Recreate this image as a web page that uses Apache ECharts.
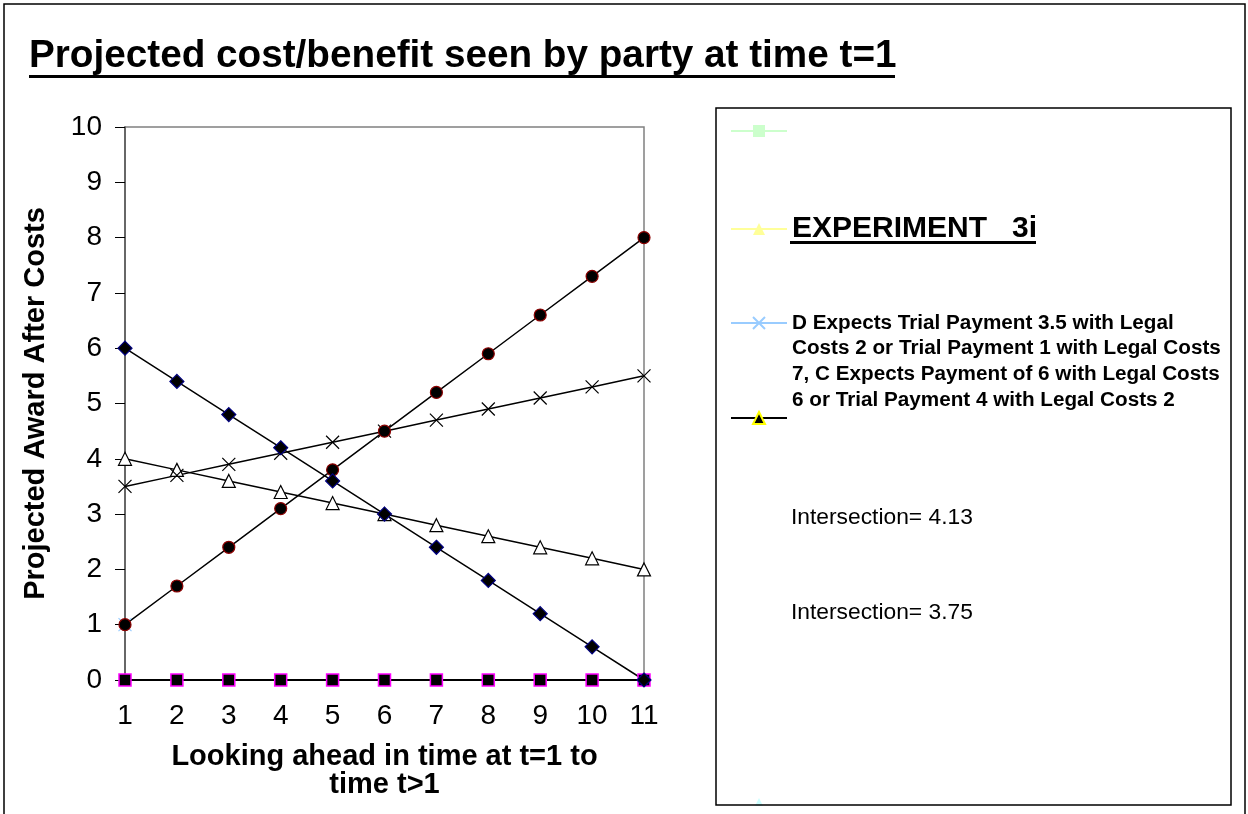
<!DOCTYPE html>
<html>
<head>
<meta charset="utf-8">
<script src="https://cdn.jsdelivr.net/npm/echarts@6/dist/echarts.min.js"></script>
<style>
  html, body { margin: 0; padding: 0; background: #fff; }
  #chart { width: 1248px; height: 814px; }
</style>
</head>
<body>
<div id="chart"></div>
<script>
const categories = ['1', '2', '3', '4', '5', '6', '7', '8', '9', '10', '11']

// plotted series (no legend entry)
const diamondVals = [6, 5.4, 4.8, 4.2, 3.6, 3.0, 2.4, 1.8, 1.2, 0.6, 0]
const circleVals = [1, 1.7, 2.4, 3.1, 3.8, 4.5, 5.2, 5.9, 6.6, 7.3, 8.0]
const crossVals = [3.5, 3.7, 3.9, 4.1, 4.3, 4.5, 4.7, 4.9, 5.1, 5.3, 5.5]
const openTriVals = [4, 3.8, 3.6, 3.4, 3.2, 3.0, 2.8, 2.6, 2.4, 2.2, 2.0]
const squareVals = [0, 0, 0, 0, 0, 0, 0, 0, 0, 0, 0]

// legend series
const greenVals = []
const yellowVals = [0, 0, 0, 0, 0, 0, 0, 0, 0, 0, 0]
const blueXVals = [1]
const blackTriVals = []
const cyanVals = []

const expName = 'EXPERIMENT   3i'
const dName = 'D Expects Trial Payment 3.5 with Legal\nCosts 2 or Trial Payment 1 with Legal Costs\n7, C Expects Payment of 6 with Legal Costs\n6 or Trial Payment 4 with Legal Costs 2'
const int1Name = 'Intersection= 4.13'
const int2Name = 'Intersection= 3.75'

const FONT = '"Liberation Sans", Arial, sans-serif'
const X_SYMBOL = 'path://M0,0L10,10M10,0L0,10'

const chart = echarts.init(document.getElementById('chart'))

function legendAt(name, top, text) {
    return Object.assign({
        data: [name],
        left: 730,
        top: top,
        padding: 0,
        orient: 'vertical',
        itemWidth: 56,
        itemHeight: 15,
        selectedMode: false,
        textStyle: { fontFamily: FONT, color: '#000' }
    }, text)
}

const option = {
    animation: false,
    backgroundColor: '#fff',
    title: {
        text: 'Projected cost/benefit seen by party at time t=1',
        left: 29,
        top: 37,
        padding: 0,
        textStyle: {
            fontFamily: FONT,
            fontSize: 38.7,
            fontWeight: 'bold',
            color: '#000'
        }
    },
    grid: {
        left: 125,
        right: 604,
        top: 127,
        bottom: 134,
        show: true,
        borderColor: '#808080',
        borderWidth: 1.5
    },
    legend: [
        legendAt('green', 125, { formatter: () => '', textStyle: { lineHeight: 15 } }),
        legendAt(expName, 212, {
            textStyle: { fontFamily: FONT, fontSize: 30, fontWeight: 'bold', color: '#000', lineHeight: 34 }
        }),
        legendAt(dName, 227, {
            formatter: name => '\n\n\n' + name,
            textStyle: {
                fontFamily: FONT, fontSize: 20.7, fontWeight: 'bold', color: '#000',
                lineHeight: 25.7, padding: [12, 0, 0, 0]
            }
        }),
        legendAt('blackTri', 411, { formatter: () => '', textStyle: { lineHeight: 15 } }),
        legendAt(int1Name, 505, {
            itemStyle: { opacity: 0 },
            lineStyle: { opacity: 0 },
            textStyle: { fontFamily: FONT, fontSize: 22.8, color: '#000', lineHeight: 26 }
        }),
        legendAt(int2Name, 600, {
            itemStyle: { opacity: 0 },
            lineStyle: { opacity: 0 },
            textStyle: { fontFamily: FONT, fontSize: 22.8, color: '#000', lineHeight: 26 }
        }),
        legendAt('cyan', 798, {
            lineStyle: { opacity: 0 },
            formatter: () => '', textStyle: { lineHeight: 15 }
        })
    ],
    xAxis: {
        type: 'category',
        data: categories,
        boundaryGap: false,
        name: 'Looking ahead in time at t=1 to\ntime t>1',
        nameLocation: 'middle',
        nameGap: 63,
        nameTextStyle: {
            fontFamily: FONT,
            fontSize: 29,
            fontWeight: 'bold',
            color: '#000',
            lineHeight: 28
        },
        axisLine: { lineStyle: { color: '#000', width: 2 } },
        axisTick: { show: true, length: 5, alignWithLabel: true, lineStyle: { color: '#555' } },
        axisLabel: { fontFamily: FONT, fontSize: 28, color: '#000', margin: 22 },
        splitLine: { show: false }
    },
    yAxis: {
        type: 'value',
        min: 0,
        max: 10,
        interval: 1,
        name: 'Projected Award After Costs',
        nameLocation: 'middle',
        nameGap: 75,
        nameTextStyle: {
            fontFamily: FONT,
            fontSize: 29,
            fontWeight: 'bold',
            color: '#000'
        },
        axisLine: { show: true, lineStyle: { color: '#555', width: 1.5 } },
        axisTick: { show: true, length: 10, lineStyle: { color: '#000' } },
        axisLabel: { fontFamily: FONT, fontSize: 28, color: '#000', margin: 23 },
        splitLine: { show: false }
    },
    series: [
        {
            name: 'green', type: 'line', data: greenVals,
            symbol: 'rect', symbolSize: 12,
            itemStyle: { color: '#CCFFCC' }, lineStyle: { color: '#CCFFCC', width: 1.5 }
        },
        {
            name: expName, type: 'line', data: yellowVals,
            symbol: 'triangle', symbolSize: 12,
            itemStyle: { color: '#FFFF99' }, lineStyle: { color: '#FFFF99', width: 1.5 }
        },
        {
            name: 'squares', type: 'line', data: squareVals,
            symbol: 'rect', symbolSize: 12,
            itemStyle: { color: '#000', borderColor: '#FF00FF', borderWidth: 1.5 },
            lineStyle: { color: '#000', width: 2 }
        },
        {
            name: dName, type: 'line', data: blueXVals,
            symbol: X_SYMBOL, symbolSize: 13,
            itemStyle: { color: '#99CCFF', borderColor: '#99CCFF', borderWidth: 1.2 },
            lineStyle: { color: '#99CCFF', width: 1.5 }
        },
        {
            name: 'blackTri', type: 'line', data: blackTriVals,
            symbol: 'triangle', symbolSize: 12,
            itemStyle: { color: '#000', borderColor: '#FFFF00', borderWidth: 1.5 },
            lineStyle: { color: '#000', width: 1.5 }
        },
        {
            name: int1Name, type: 'line', data: [],
            symbol: 'none', itemStyle: { opacity: 0 }, lineStyle: { width: 0, opacity: 0 }
        },
        {
            name: int2Name, type: 'line', data: [],
            symbol: 'none', itemStyle: { opacity: 0 }, lineStyle: { width: 0, opacity: 0 }
        },
        {
            name: 'cyan', type: 'line', data: cyanVals,
            symbol: 'triangle', symbolSize: 12,
            itemStyle: { color: '#CCFFFF' }, lineStyle: { color: '#CCFFFF', width: 1.5 }
        },
        {
            name: 'openTri', type: 'line', data: openTriVals,
            symbol: 'triangle', symbolSize: 13, showAllSymbol: true,
            itemStyle: { color: '#fff', borderColor: '#000', borderWidth: 1.2 },
            lineStyle: { color: '#000', width: 1.5 }
        },
        {
            name: 'cross', type: 'line', data: crossVals,
            symbol: X_SYMBOL, symbolSize: 13, showAllSymbol: true,
            itemStyle: { color: '#000', borderColor: '#000', borderWidth: 1.2 },
            lineStyle: { color: '#000', width: 1.5 }
        },
        {
            name: 'circle', type: 'line', data: circleVals,
            symbol: 'circle', symbolSize: 12, showAllSymbol: true,
            itemStyle: { color: '#000', borderColor: '#8B0000', borderWidth: 1.2 },
            lineStyle: { color: '#000', width: 1.5 }
        },
        {
            name: 'diamond', type: 'line', data: diamondVals,
            symbol: 'diamond', symbolSize: 14, showAllSymbol: true,
            itemStyle: { color: '#000', borderColor: '#000080', borderWidth: 1.2 },
            lineStyle: { color: '#000', width: 1.5 }
        }
    ],
    graphic: [
        // outer frame
        { type: 'rect', z: 100, silent: true, shape: { x: 4, y: 4, width: 1241, height: 900 },
          style: { fill: 'none', stroke: '#000', lineWidth: 1.5 } },
        // mask below legend box (the box clips its last entry)
        { type: 'rect', z: 99, silent: true, shape: { x: 717, y: 806, width: 513, height: 10 },
          style: { fill: '#fff' } },
        // legend box
        { type: 'rect', z: 100, silent: true, shape: { x: 716, y: 108, width: 515, height: 697 },
          style: { fill: 'none', stroke: '#000', lineWidth: 1.5 } },
        // title underline
        { type: 'rect', z: 100, silent: true, shape: { x: 29, y: 75, width: 866, height: 3 },
          style: { fill: '#000' } },
        // EXPERIMENT underline
        { type: 'rect', z: 100, silent: true, shape: { x: 790, y: 241, width: 246, height: 3 },
          style: { fill: '#000' } }
    ]
}

chart.setOption(option)
</script>
</body>
</html>
